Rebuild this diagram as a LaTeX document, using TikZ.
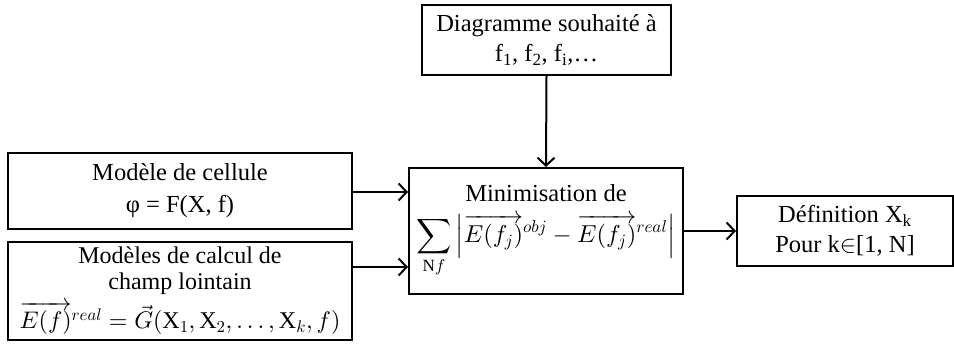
\documentclass[tikz,border=0pt]{standalone}
\usepackage{amsmath}
\usepackage{fontspec}
\setmainfont{Liberation Serif}
\DeclareFontShape{OT1}{cmr}{m}{n}{<->cmr10}{}
\DeclareFontShape{OML}{cmm}{m}{it}{<->cmmi10}{}
\DeclareFontShape{OMS}{cmsy}{m}{n}{<->cmsy10}{}
\DeclareFontShape{OMX}{cmex}{m}{n}{<->cmex10}{}
\usetikzlibrary{arrows.meta}
\tikzset{
  box/.style={draw, line width=2pt, align=center, inner sep=0pt, font=\fontsize{24.5}{30}\selectfont},
  arr/.style={line width=2pt, -{Straight Barb[length=8pt,width=17pt,line width=2pt]}}
}
\begin{document}
\begin{tikzpicture}[x=1pt,y=-1pt]
\useasboundingbox (0,0) rectangle (954,347);
\node[box, minimum width=249pt, minimum height=70pt] (top) at (546.5,40) {Diagramme souhaité à\\f\textsubscript{1}, f\textsubscript{2}, f\textsubscript{i},\dots};
\node[box, minimum width=344pt, minimum height=76pt, font=\fontsize{24.5}{32}\selectfont] (cell) at (180,191) {Modèle de cellule\\φ = F(X, f)};
\node[box, minimum width=344pt, minimum height=98pt, font=\fontsize{24}{26}\selectfont] (calc) at (180,291) {Modèles de calcul de\\champ lointain\\[6pt]$\overrightarrow{E(f)}^{real}=\vec{G}(\text{X}_1,\text{X}_2,\dots,\text{X}_k,f)$};
\node[box, minimum width=274pt, minimum height=126pt] (mid) at (546,231) {Minimisation de\\[11pt]$\displaystyle\sum_{\text{N}f}\left|\overrightarrow{E(f_j)}^{obj}-\overrightarrow{E(f_j)}^{real}\right|$};
\node[box, minimum width=216pt, minimum height=70pt] (res) at (845,231) {Définition X\textsubscript{k}\\Pour k$\in$[1, N]};
\draw[arr] (top.south) -- (mid.north);
\draw[arr] (cell.east |- 0,192) -- (mid.west |- 0,192);
\draw[arr] (calc.east |- 0,267) -- (mid.west |- 0,267);
\draw[arr] (mid.east) -- (res.west);
\end{tikzpicture}
\end{document}
